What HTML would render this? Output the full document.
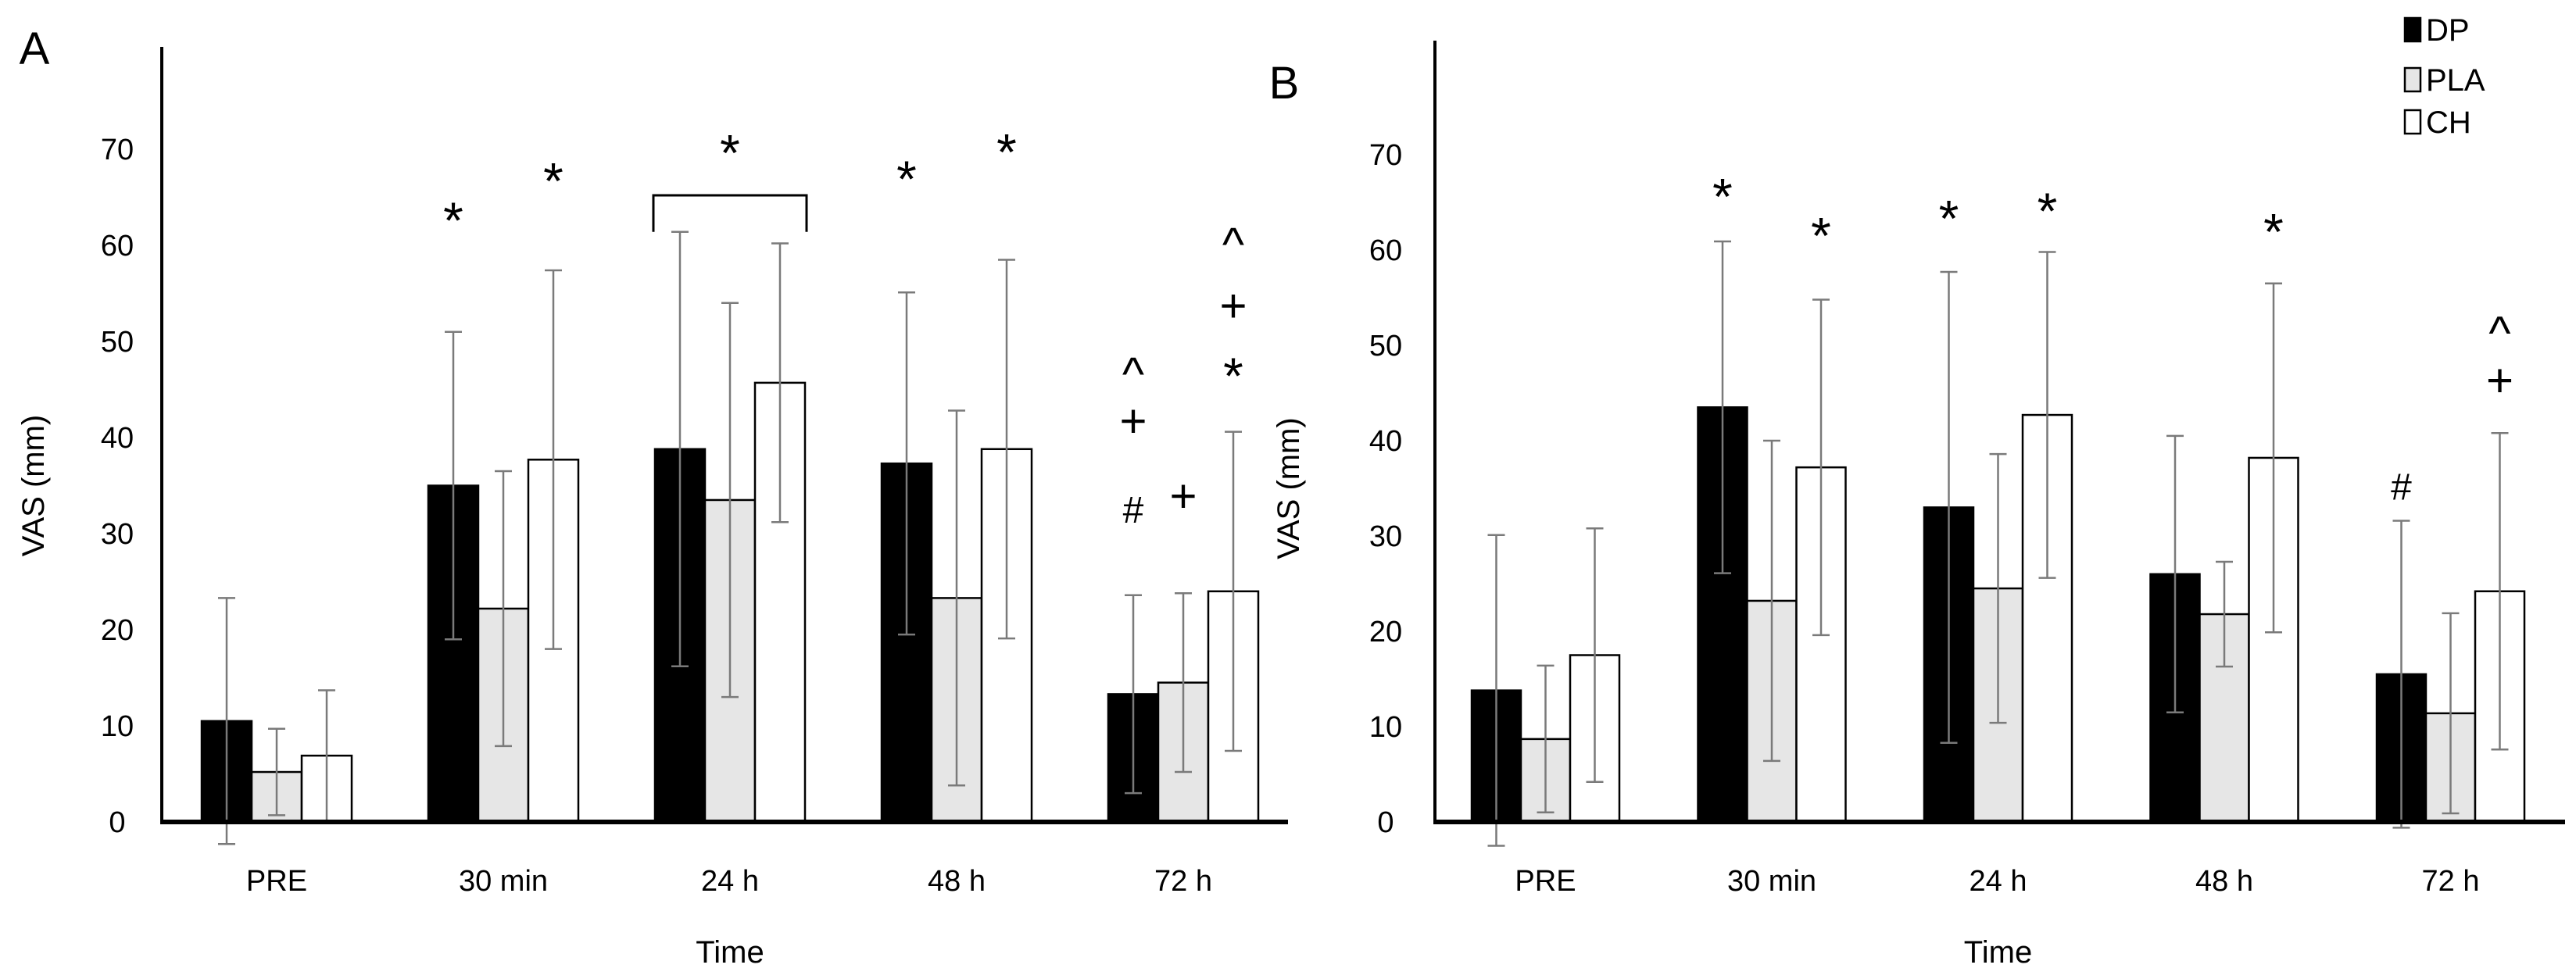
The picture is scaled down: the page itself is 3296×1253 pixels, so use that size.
<!DOCTYPE html>
<html><head><meta charset="utf-8"><style>
html,body{margin:0;padding:0;background:#fff}
svg{display:block}
text{font-family:"Liberation Sans Narrow","Liberation Sans",sans-serif;fill:#000}
</style></head><body>
<svg id="chart" width="3296" height="1253" viewBox="0 0 3296 1253" xmlns="http://www.w3.org/2000/svg"></svg>
<script>
const categories = ["PRE","30 min","24 h","48 h","72 h"];
const seriesNames = ["DP","PLA","CH"];
const yTicks = [0,10,20,30,40,50,60,70];
const aDP = [10.5,35,38.8,37.3,13.3];
const aPLA = [5.2,22.2,33.5,23.3,14.5];
const aCH = [6.9,37.7,45.7,38.8,24];
const aDPsd = [12.8,16,22.6,17.8,10.3];
const aPLAsd = [4.5,14.3,20.5,19.5,9.3];
const aCHsd = [6.8,19.7,14.5,19.7,16.6];
const bDP = [13.8,43.5,33,26,15.5];
const bPLA = [8.7,23.2,24.5,21.8,11.4];
const bCH = [17.5,37.2,42.7,38.2,24.2];
const bDPsd = [16.3,17.4,24.7,14.5,16.1];
const bPLAsd = [7.7,16.8,14.1,5.5,10.5];
const bCHsd = [13.3,17.6,17.1,18.3,16.6];
// annotations: [group, bar, value, symbol]
const aAnnot = [[1,0,62.7,"*"],[1,2,66.8,"*"],[2,1,69.7,"*"],[3,0,67,"*"],[3,2,69.8,"*"],
  [4,0,47.2,"^"],[4,0,41.5,"+"],[4,0,32.6,"#"],[4,1,33.7,"+"],[4,2,60.7,"^"],[4,2,53.5,"+"],[4,2,46.5,"*"]];
const bAnnot = [[1,0,65.7,"*"],[1,2,61.6,"*"],[2,0,63.4,"*"],[2,2,64.2,"*"],[3,2,62,"*"],
  [4,0,35.3,"#"],[4,2,51.9,"^"],[4,2,46.1,"+"]];

const NS="http://www.w3.org/2000/svg";
const svg=document.getElementById('chart');
function mk(tag,attrs,parent,txt){const e=document.createElementNS(NS,tag);for(const k in attrs)e.setAttribute(k,attrs[k]);if(txt!==undefined)e.textContent=txt;(parent||svg).appendChild(e);return e;}

function panel(cfg){
  const g=mk('g',{});
  
  
  const y=v=>cfg.zero-v*cfg.unit;
  const xb=(gi,bi)=>cfg.x0+gi*cfg.gap+bi*cfg.bw;
  const fills=["#000","#e6e6e6","#fff"];
  const means=[cfg.dp,cfg.pla,cfg.ch], sds=[cfg.dpsd,cfg.plasd,cfg.chsd];
  // ticks
  yTicks.forEach(t=>{const e=mk('text',{x:cfg.tickX,y:y(t)+13,'text-anchor':'middle','font-size':38},g,String(t));
    });
  // bars
  for(let s=0;s<3;s++){for(let i=0;i<categories.length;i++){
    const v=means[s][i];
    const r=mk('rect',{x:xb(i,s),y:y(v),width:cfg.bw,height:y(0)-y(v),fill:fills[s],stroke:'#000','stroke-width':2.5},g);
    
    
  }}
  for(let s=0;s<3;s++){for(let i=0;i<categories.length;i++){
    const cx=xb(i,s)+cfg.bw/2, hi=y(means[s][i]+sds[s][i]), lo=y(means[s][i]-sds[s][i]);
    const eg=mk('g',{stroke:'#7a7a7a','stroke-width':2.5},g);
    
    
    mk('line',{x1:cx,x2:cx,y1:hi,y2:lo},eg);
    mk('line',{x1:cx-11,x2:cx+11,y1:hi,y2:hi},eg);
    mk('line',{x1:cx-11,x2:cx+11,y1:lo,y2:lo},eg);
  }}
  // axes
  const ya=mk('line',{x1:cfg.axisX,x2:cfg.axisX,y1:cfg.top,y2:y(0)+3,stroke:'#000','stroke-width':4},g);
  
  const xa=mk('line',{x1:cfg.axisX-2,x2:cfg.axisEnd,y1:y(0),y2:y(0),stroke:'#000','stroke-width':6},g);
  
  categories.forEach((c,i)=>{const e=mk('text',{x:xb(i,1)+cfg.bw/2,y:1140,'text-anchor':'middle','font-size':38},g,c);
    });
  const t=mk('text',{x:xb(2,1)+cfg.bw/2,y:1232,'text-anchor':'middle','font-size':40},g,'Time');
  
  const yt=mk('text',{x:0,y:0,'text-anchor':'middle','font-size':40,transform:`translate(${cfg.titleX},${(y(0)+y(70))/2}) rotate(-90)`},g,'VAS (mm)');
  
  const pl=mk('text',{x:cfg.labX,y:cfg.labY,'text-anchor':'middle','font-size':58,'font-family':'Liberation Sans'},g,cfg.id);
  
  cfg.annot.forEach(a=>{
    const cx=a[1]===1&&a[3]==="*"&&cfg.id==="A"&&a[0]===2?xb(a[0],1)+cfg.bw/2:xb(a[0],a[1])+cfg.bw/2;
    const sz=a[3]==="*"?66:(a[3]==="#"?48:60);
    const off=a[3]==="*"?24:(a[3]==="^"?28:18);
    const e=mk('text',{x:cx,y:y(a[2])+off,'text-anchor':'middle','font-size':sz,'font-family':'Liberation Sans'},g,a[3]);
    
  });
  if(cfg.bracket){
    const bx1=xb(2,0)-2,bx2=xb(2,2)+cfg.bw+2,by=y(65.2),bl=y(61.4);
    const p=mk('path',{d:`M${bx1},${bl} L${bx1},${by} L${bx2},${by} L${bx2},${bl}`,fill:'none',stroke:'#000','stroke-width':3},g);
    
  }
}
panel({id:'A',zero:1052,unit:12.3,x0:258,gap:290,bw:64,axisX:207,axisEnd:1648,top:60,tickX:150,titleX:56,labX:44,labY:82,
  dp:aDP,pla:aPLA,ch:aCH,dpsd:aDPsd,plasd:aPLAsd,chsd:aCHsd,annot:aAnnot,bracket:true});
panel({id:'B',zero:1052,unit:12.2,x0:1883,gap:289.5,bw:63,axisX:1836,axisEnd:3282,top:52,tickX:1773,titleX:1662,labX:1643,labY:126,
  dp:bDP,pla:bPLA,ch:bCH,dpsd:bDPsd,plasd:bPLAsd,chsd:bCHsd,annot:bAnnot,bracket:false});
// legend
const lg=mk('g',{});


const lf=["#000","#e6e6e6","#fff"], ly=[38,102,156];
seriesNames.forEach((n,i)=>{
  const r=mk('rect',{x:3077,y:ly[i]-15,width:20,height:30,fill:lf[i],stroke:'#000','stroke-width':2.5},lg);
  
  
  const t=mk('text',{x:3104,y:ly[i]+14,'font-size':40},lg,n);
  
  
});
</script>
</body></html>
